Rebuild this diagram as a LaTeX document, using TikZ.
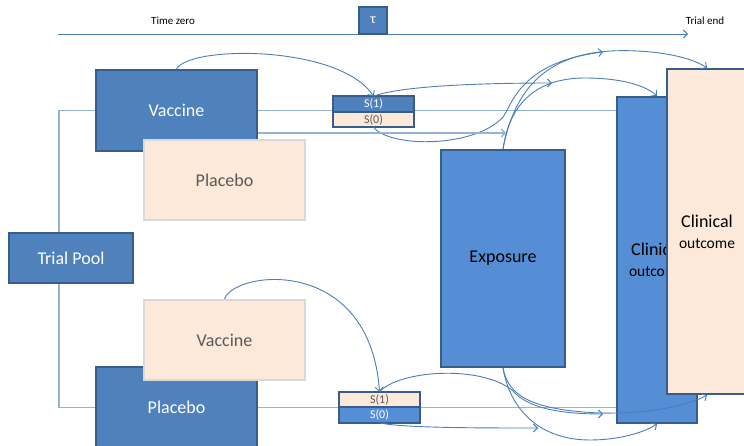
\documentclass[tikz,border=0pt]{standalone}
\usepackage{fontspec}
\setmainfont{Carlito}
\usetikzlibrary{arrows.meta,positioning}

\definecolor{boxblue}{HTML}{4F81BD}
\definecolor{edgeblue}{HTML}{385D8A}
\definecolor{softblue}{HTML}{558ED5}
\definecolor{peach}{HTML}{FDE9D9}
\definecolor{peachedge}{HTML}{D9D9D9}
\definecolor{greytext}{HTML}{595959}
\definecolor{linkblue}{HTML}{4A7EBB}
\definecolor{paleblue}{HTML}{95B3D7}

\begin{document}
\begin{tikzpicture}[x=1pt,y=-1pt,>={Straight Barb[length=4pt,width=8pt]}]

      \tikzstyle{bluebox}=[rectangle,draw=edgeblue,line width=2pt,
        fill=boxblue,text=white,font=\fontsize{18}{21}\selectfont]
      \tikzstyle{softbox}=[rectangle,draw=edgeblue,line width=2pt,
        fill=softblue,text=black,font=\fontsize{18}{21}\selectfont]
      \tikzstyle{peachbox}=[rectangle,draw=peachedge,line width=2pt,
        fill=peach,text=greytext,font=\fontsize{18}{21}\selectfont]
      \tikzstyle{outcomebox}=[rectangle,draw=edgeblue,line width=2pt,
        fill=peach,text=black,align=center,font=\fontsize{18}{21}\selectfont]
      \tikzstyle{sbox}=[rectangle,draw=edgeblue,line width=2pt,
        minimum width=81pt,minimum height=15.5pt,inner sep=0pt,
        outer sep=0pt,font=\fontsize{12}{14}\selectfont]
      \tikzstyle{feed}=[draw=paleblue,line width=1.4pt]
      \tikzstyle{link}=[->,draw=linkblue,line width=0.9pt]

      \useasboundingbox (0,0) rectangle (744,446);
      \clip (0,0) rectangle (744,446);

      % arms of the trial
      \node(VaccineA)[bluebox,minimum width=161pt,minimum height=81pt]
        at (176.5,110.5){Vaccine};
      \node(PlaceboA)[peachbox,minimum width=161pt,minimum height=80pt]
        at (224.5,180){Placebo};
      \node(PlaceboB)[bluebox,minimum width=161pt,minimum height=81pt]
        at (176.5,407.5){Placebo};
      \node(VaccineB)[peachbox,minimum width=161pt,minimum height=80pt]
        at (224.5,340){Vaccine};

      \coordinate (Split) at (59,258);
      \draw [feed] (VaccineA.west) -| (Split) |- (PlaceboB.west);

      \node(Pool)[bluebox,minimum width=124pt,minimum height=50pt]
        at (71,258){Trial Pool};

      % exposure and outcomes
      \node(Exposure)[softbox,minimum width=124pt,minimum height=217pt]
        at (503,258.5){Exposure};
      \node(OutcomeA)[softbox,minimum width=80pt,minimum height=326pt,
        align=center] at (657,260)
        {Clinical\\{\fontsize{15.5}{18}\selectfont outcome}};
      \node(OutcomeB)[outcomebox,minimum width=80pt,minimum height=325pt]
        at (707,231.5)
        {Clinical\\{\fontsize{15.5}{18}\selectfont outcome}};

      \draw [feed] (VaccineA.east) -- (VaccineA.east -| OutcomeA.west);
      \draw [feed] (PlaceboB.east) -- (PlaceboB.east -| OutcomeA.west);

      % surrogate boxes
      \node(SoneA)[sbox,fill=boxblue,text=white] at (373.5,104){S(1)};
      \node(SzeroA)[sbox,fill=peach,text=greytext,below=0pt of SoneA]{S(0)};
      \node(SoneB)[sbox,fill=peach,text=greytext] at (379.5,399.5){S(1)};
      \node(SzeroB)[sbox,fill=softblue,text=white,below=0pt of SoneB]{S(0)};

      \coordinate (HitA) at (552,83);
      \coordinate (HitB) at (603,52);
      \coordinate (HitC) at (506,133);
      \coordinate (HitD) at (603,414);
      \coordinate (HitE) at (538,428);

      \draw [link] (VaccineA.north) .. controls (190,45) and (340,45) .. (SoneA.north);
      \draw [link] (VaccineB.north) .. controls (235,270) and (370,255) .. (SoneB.north);

      \draw [link] (Exposure.north) .. controls (510,100) and (540,78) .. (585,78)
        .. controls (620,78) and (645,85) .. (OutcomeA.north);
      \draw [link] (Exposure.north) .. controls (515,85) and (550,55) .. (610,51)
        .. controls (650,49) and (690,56) .. (OutcomeB.north);
      \draw [link] (Exposure.south) .. controls (508,395) and (530,410) .. (600,413)
        .. controls (650,414) and (690,405) .. (OutcomeB.south);
      \draw [link] (Exposure.south) .. controls (510,410) and (540,440) .. (590,440)
        .. controls (620,440) and (645,432) .. (OutcomeA.south);

      \draw [link] (SoneA.north) .. controls (400,86) and (480,83) .. (HitA);
      \draw [link] (SzeroA.south) .. controls (390,148) and (475,148) .. (503,117)
        .. controls (512,105) and (520,62) .. (HitB);
      \draw [link,draw=paleblue,line width=1.4pt] (VaccineA.east |- HitC) -- (HitC);
      \draw [link] (SoneB.north) .. controls (400,370) and (480,365) .. (512,390)
        .. controls (525,405) and (550,414) .. (HitD);
      \draw [link] (SzeroB.south) .. controls (400,428) and (480,428) .. (HitE);

      % time axis
      \coordinate (TimeZero) at (58,34);
      \coordinate (TrialEnd) at (688,34);
      \draw [link] (TimeZero) -- (TrialEnd);
      \node(ZeroLabel)[font=\fontsize{11}{13}\selectfont] at (173,21){Time zero};
      \node(EndLabel)[font=\fontsize{11}{13}\selectfont] at (705,21){Trial end};
      \node(Tau)[bluebox,minimum width=28pt,minimum height=27pt,inner sep=0pt,
        font=\fontsize{14}{16}\selectfont] at (373,20.5){τ};

    \end{tikzpicture}
\end{document}
